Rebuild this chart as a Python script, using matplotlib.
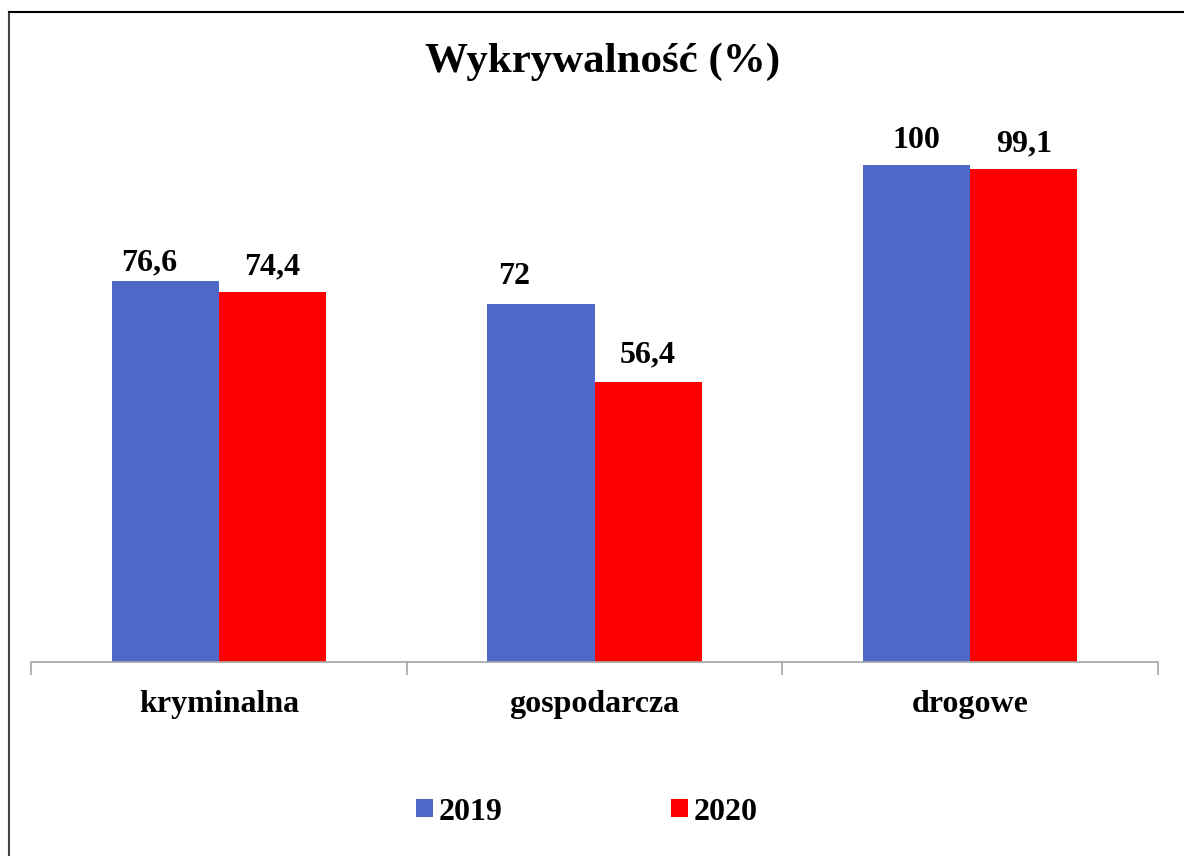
import matplotlib.pyplot as plt
from matplotlib.lines import Line2D
import numpy as np

# dane
kategorie = ['kryminalna', 'gospodarcza', 'drogowe']
lata = ['2019', '2020']
wartosci_2019 = [76.6, 72, 100]
wartosci_2020 = [74.4, 56.4, 99.1]
etykiety_2019 = ['76,6', '72', '100']
etykiety_2020 = ['74,4', '56,4', '99,1']

# przesuniecia etykiet (px): poziomo i odstep nad slupkiem
dx_2019 = [-16, -27, 0]
dy_2019 = [11, 20, 17]
dx_2020 = [0, 0, 0]
dy_2020 = [18, 19, 18]

kolor_2019 = '#5069C9'
kolor_2020 = '#FF0000'

plt.rcParams['font.family'] = ['Liberation Serif', 'DejaVu Serif']
plt.rcParams['font.weight'] = 'bold'

fig = plt.figure(figsize=(11.84, 8.56), dpi=100)
ax = fig.add_axes([31 / 1184, 194 / 856, (1158 - 31) / 1184, 596.4 / 856])

x = np.arange(len(kategorie))
szer = 0.285
b1 = ax.bar(x - szer / 2, wartosci_2019, szer, color=kolor_2019, label=lata[0])
b2 = ax.bar(x + szer / 2, wartosci_2020, szer, color=kolor_2020, label=lata[1])

px = 72 / 100
for slupki, etykiety, dxs, dys in [(b1, etykiety_2019, dx_2019, dy_2019),
                                   (b2, etykiety_2020, dx_2020, dy_2020)]:
    for s, t, ddx, ddy in zip(slupki, etykiety, dxs, dys):
        ax.annotate(t, (s.get_x() + s.get_width() / 2, s.get_height()),
                    xytext=(ddx * px, ddy * px), textcoords='offset points',
                    ha='center', va='baseline', fontsize=23, fontweight='bold')

ax.set_xlim(-0.5, 2.5)
ax.set_ylim(0, 120)
ax.set_yticks([])
for side in ['top', 'right', 'left']:
    ax.spines[side].set_visible(False)
ax.spines['bottom'].set_color('#A6A6A6')
ax.spines['bottom'].set_linewidth(1.2)

# podzialki miedzy kategoriami
ax.set_xticks([-0.5, 0.5, 1.5, 2.5], minor=False)
ax.set_xticklabels([])
ax.tick_params(axis='x', which='major', length=9, color='#A6A6A6', width=1.2)
ax.set_xticks(x, minor=True)
ax.set_xticklabels(kategorie, minor=True, fontsize=23, fontweight='bold')
ax.tick_params(axis='x', which='minor', length=0, pad=20)

fig.text(603 / 1184, 1 - 62 / 856, 'Wykrywalność (%)', ha='center', va='center',
         fontsize=31, fontweight='bold')

fig.legend(handles=[b1, b2], labels=lata, loc='center',
           bbox_to_anchor=(587 / 1184, 1 - 812 / 856), ncol=2, frameon=False,
           handlelength=0.52, handleheight=0.52, handletextpad=0.18,
           columnspacing=5.28, prop={'weight': 'bold', 'size': 23})

# ramka wykresu
fig.add_artist(Line2D([8.5 / 1184, 8.5 / 1184], [0, 1 - 11.5 / 856],
                      transform=fig.transFigure, color='#444444', linewidth=1.5))
fig.add_artist(Line2D([8.5 / 1184, 1], [1 - 11.5 / 856, 1 - 11.5 / 856],
                      transform=fig.transFigure, color='black', linewidth=1.5))

fig.savefig('out.png', dpi=100)
